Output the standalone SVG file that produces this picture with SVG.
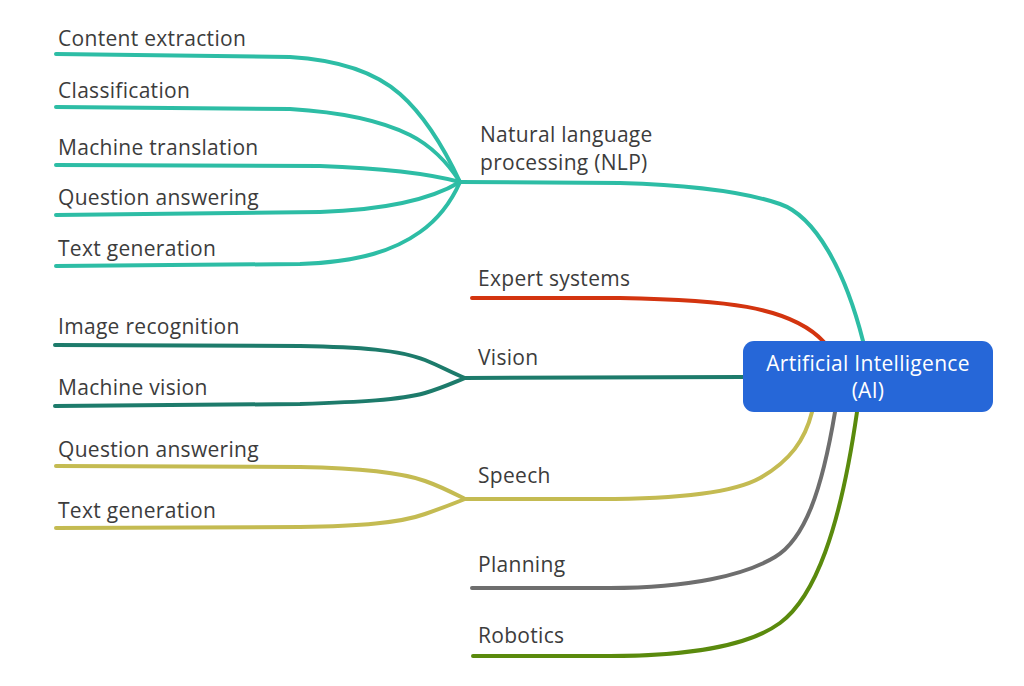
<svg xmlns="http://www.w3.org/2000/svg" width="1024" height="686" viewBox="0 0 1024 686">
<style>
  .lbl { font-family: "Open Sans", "Noto Sans", sans-serif; font-size: 21px; fill: #3c3c3c; letter-spacing: 0.3px; }
  .root { font-family: "Open Sans", "Noto Sans", sans-serif; font-size: 21px; fill: #ffffff; text-anchor: middle; letter-spacing: 0.3px; }
  .c { fill: none; stroke-width: 4; stroke-linecap: round; stroke-linejoin: round; }
  .nlp { stroke: #2dbda5; }
  .exp { stroke: #d3340f; }
  .vis { stroke: #1d7b6b; }
  .sp { stroke: #c4bb52; }
  .pl { stroke: #6e6e6e; }
  .rob { stroke: #5a8a0d; }
</style>
<rect width="1024" height="686" fill="#ffffff"/>
<g id="connectors">
  <!-- root to main branches -->
  <path class="c nlp" d="M460 182 L620 183 C690 185 745 192 780 204 C815 216 845 270 863 341"/>
  <path class="c exp" d="M472 298 L620 298 C720 300 790 305 824 342"/>
  <path class="c vis" d="M465 378 L743 377"/>
  <path class="c sp" d="M465 499 L600 499 C680 499 735 492 760 478 C790 461 805 440 812 412"/>
  <path class="c pl" d="M472 588 L610 588 C690 588 745 575 775 557 C805 539 822 490 835 412"/>
  <path class="c rob" d="M473 656 L610 656 C690 656 750 645 780 623 C815 597 840 530 857 412"/>
  <!-- NLP children -->
  <path class="c nlp" d="M56 54 L290 57 C340 60 375 72 400 94 C425 116 445 150 460 182"/>
  <path class="c nlp" d="M56 107 L290 109 C340 112 380 120 410 135 C430 145 448 163 460 182"/>
  <path class="c nlp" d="M56 165 L320 166 C380 168 430 174 460 182"/>
  <path class="c nlp" d="M56 215 L320 212 C380 210 430 200 460 182"/>
  <path class="c nlp" d="M56 266 L300 264 C360 262 395 250 420 232 C440 218 452 200 460 182"/>
  <!-- Vision children -->
  <path class="c vis" d="M55 345 L300 346 C360 347 400 350 425 360 C440 366 452 373 465 378"/>
  <path class="c vis" d="M55 406 L300 404 C360 402 400 400 425 393 C442 388 455 382 465 378"/>
  <!-- Speech children -->
  <path class="c sp" d="M56 466 L300 467 C360 468 400 472 425 481 C442 487 455 494 465 499"/>
  <path class="c sp" d="M56 528 L300 527 C360 526 400 523 425 514 C442 508 455 503 465 499"/>
</g>
<g id="root">
  <rect x="743" y="341" width="250" height="71" rx="11" ry="11" fill="#2667d8"/>
  <text class="root" x="868" y="371">Artificial Intelligence</text>
  <text class="root" x="868" y="398">(AI)</text>
</g>
<g id="nlp"><text class="lbl" x="480" y="142">Natural language</text><text class="lbl" x="480" y="170">processing (NLP)</text></g>
<g id="expert"><text class="lbl" x="478" y="286">Expert systems</text></g>
<g id="vision"><text class="lbl" x="478" y="365">Vision</text></g>
<g id="speech"><text class="lbl" x="478" y="483">Speech</text></g>
<g id="planning"><text class="lbl" x="478" y="572">Planning</text></g>
<g id="robotics"><text class="lbl" x="478" y="643">Robotics</text></g>
<g id="content-extraction"><text class="lbl" x="58" y="46">Content extraction</text></g>
<g id="classification"><text class="lbl" x="58" y="98">Classification</text></g>
<g id="machine-translation"><text class="lbl" x="58" y="155">Machine translation</text></g>
<g id="nlp-question-answering"><text class="lbl" x="58" y="205">Question answering</text></g>
<g id="nlp-text-generation"><text class="lbl" x="58" y="256">Text generation</text></g>
<g id="image-recognition"><text class="lbl" x="58" y="334">Image recognition</text></g>
<g id="machine-vision"><text class="lbl" x="58" y="395">Machine vision</text></g>
<g id="speech-question-answering"><text class="lbl" x="58" y="457">Question answering</text></g>
<g id="speech-text-generation"><text class="lbl" x="58" y="518">Text generation</text></g>
</svg>
